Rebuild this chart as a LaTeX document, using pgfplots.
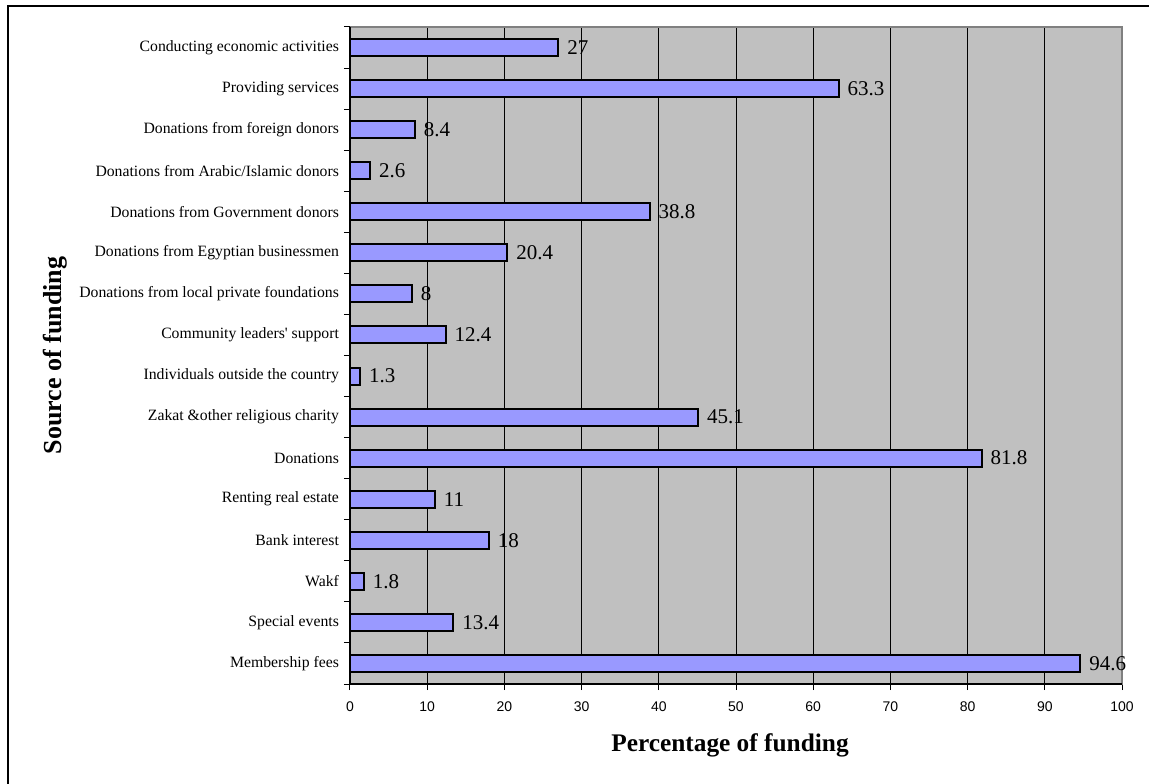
\documentclass[border=0pt]{standalone}
\usepackage{fontspec}
\setmainfont{Liberation Serif}
\newfontfamily\arialfont{Liberation Sans}
\usepackage{pgfplots}
\pgfplotsset{compat=1.18}

\definecolor{barblue}{HTML}{9999FF}
\definecolor{plotgray}{HTML}{C0C0C0}
\definecolor{framegray}{HTML}{808080}

\begin{document}
\begin{tikzpicture}
% page area
\path[use as bounding box] (-262.5pt,-74.25pt) rectangle (599.25pt,513pt);
% chart frame (top and left edges)
\draw[black, line width=1.1pt] (-256.5pt,-80pt) -- (-256.5pt,508.5pt) -- (610pt,508.5pt);

\begin{axis}[
  at={(0,0)}, anchor=south west,
  scale only axis, width=579pt, height=492.75pt,
  xbar, bar width=12.75pt,
  xmin=0, xmax=100, ymin=-0.5, ymax=15.5,
  axis background/.style={fill=plotgray},
  axis line style={draw=framegray, line width=1.5pt},
  xtick={0,10,...,100},
  xtick pos=bottom, ytick pos=left,
  tick align=outside,
  major tick length=4.5pt,
  xtick style={black, line width=0.75pt},
  xmajorgrids,
  major grid style={black, line width=0.7pt},
  xticklabel style={font=\arialfont\fontsize{10.5}{12}\selectfont, yshift=-5pt},
  /pgf/number format/assume math mode=true,
  ytick={0,...,15},
  ytick style={draw=none},
  yticklabel style={font=\fontsize{11.8}{14}\selectfont, xshift=-0.3pt},
  yticklabels={
    Membership fees,
    Special events,
    Wakf,
    Bank interest,
    Renting real estate,
    Donations,
    Zakat \&other religious charity,
    Individuals outside the country,
    Community leaders\textquotesingle{} support,
    Donations from local private foundations,
    Donations from Egyptian businessmen,
    Donations from Government donors,
    Donations from Arabic/Islamic donors,
    Donations from foreign donors,
    Providing services,
    Conducting economic activities},
  extra y ticks={-0.5,0.5,...,15.5},
  extra y tick labels={},
  extra y tick style={ytick style={draw=black, line width=0.75pt}, major tick length=4.5pt},
  nodes near coords,
  nodes near coords style={anchor=west, inner sep=0pt, xshift=6pt,
    font=\fontsize{15.75}{18}\selectfont},
  clip=false,
]
\addplot[fill=barblue, draw=black, line width=1.5pt] coordinates {
  (94.6,0)
  (13.4,1)
  (1.8,2)
  (18,3)
  (11,4)
  (81.8,5)
  (45.1,6)
  (1.3,7)
  (12.4,8)
  (8,9)
  (20.4,10)
  (38.8,11)
  (2.6,12)
  (8.4,13)
  (63.3,14)
  (27,15)
};
% left and bottom axis lines
\draw[black, line width=1pt] (axis cs:0,15.5) -- (axis cs:0,-0.5) -- (axis cs:100,-0.5);
\end{axis}

% axis titles
\node[anchor=base, font=\bfseries\fontsize{19}{22}\selectfont]
  at (285pt,-50.8pt) {Percentage of funding};
\node[rotate=90, anchor=base, font=\bfseries\fontsize{19.5}{22}\selectfont]
  at (-216pt,246.4pt) {Source of funding};
\end{tikzpicture}
\end{document}
